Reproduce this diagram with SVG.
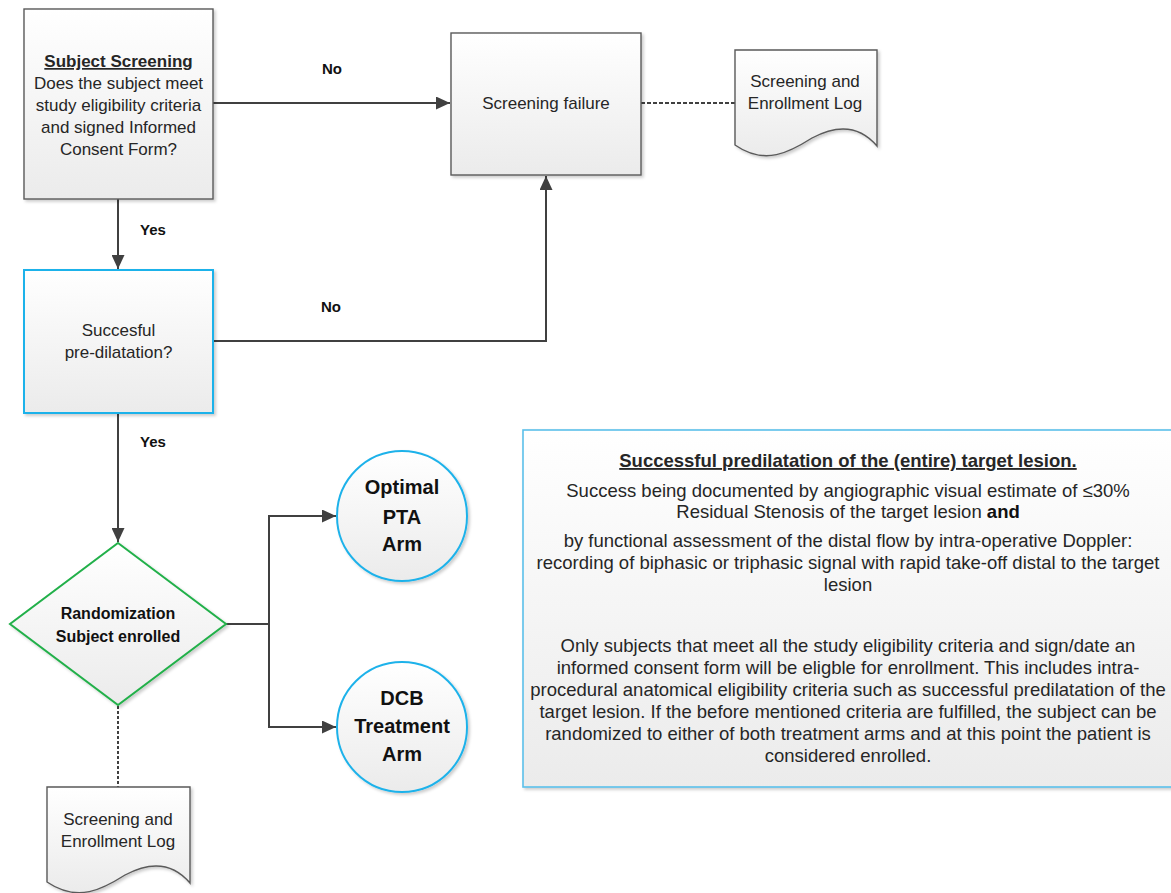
<svg xmlns="http://www.w3.org/2000/svg" width="1171" height="893" viewBox="0 0 1171 893">
<style>
.t{font-family:"Liberation Sans",Arial,sans-serif;font-size:17px;fill:#262626;text-anchor:middle}
.n{font-family:"Liberation Sans",Arial,sans-serif;font-size:18.5px;fill:#262626;text-anchor:middle}
.lbl{font-family:"Liberation Sans",Arial,sans-serif;font-size:15px;font-weight:bold;fill:#111;text-anchor:middle}
.bt{font-family:"Liberation Sans",Arial,sans-serif;font-weight:bold;fill:#111;text-anchor:middle}
.gray{fill:url(#g);stroke:#5a5a5a;stroke-width:1.4}
.blue{fill:url(#g);stroke:#1fb2ea;stroke-width:2}
.green{fill:url(#g);stroke:#22b04a;stroke-width:2}
.con{fill:none;stroke:#404040;stroke-width:2}
</style>
<defs>
<linearGradient id="g" x1="0" y1="0" x2="0" y2="1">
<stop offset="0" stop-color="#ffffff"/>
<stop offset="1" stop-color="#ebebeb"/>
</linearGradient>
<filter id="sh" x="-10%" y="-10%" width="130%" height="130%">
<feDropShadow dx="2" dy="2" stdDeviation="1.5" flood-color="#000" flood-opacity="0.2"/>
</filter>
<marker id="ar" markerUnits="userSpaceOnUse" markerWidth="14" markerHeight="13" refX="14" refY="6.5" orient="auto">
<path d="M0,0 L14,6.5 L0,13 z" fill="#404040"/>
</marker>
</defs>

<g id="connectors">
<path class="con" d="M213,103 H450" marker-end="url(#ar)"/>
<path class="con" d="M118,199 V269" marker-end="url(#ar)"/>
<path class="con" d="M213,341 H546 V176" marker-end="url(#ar)"/>
<path class="con" d="M118,413 V542" marker-end="url(#ar)"/>
<path class="con" d="M226,624 H269 V516 H336" marker-end="url(#ar)"/>
<path class="con" d="M269,624 V727 H336" marker-end="url(#ar)"/>
<path d="M641,103 H735" fill="none" stroke="#404040" stroke-width="2" stroke-dasharray="4,2"/>
<path d="M118,706 V787" fill="none" stroke="#404040" stroke-width="2" stroke-dasharray="3,2"/>
<text class="lbl" x="332" y="74">No</text>
<text class="lbl" x="153" y="235">Yes</text>
<text class="lbl" x="331" y="312">No</text>
<text class="lbl" x="153" y="447">Yes</text>
</g>

<g id="subject-screening">
<rect class="gray" x="24" y="9" width="189" height="190" filter="url(#sh)"/>
<text class="t" x="118.5" y="67" font-weight="bold" text-decoration="underline">Subject Screening</text>
<text class="t" x="118.5" y="89">Does the subject meet</text>
<text class="t" x="118.5" y="111">study eligibility criteria</text>
<text class="t" x="118.5" y="133">and signed Informed</text>
<text class="t" x="118.5" y="155">Consent Form?</text>
</g>

<g id="screening-failure">
<rect class="gray" x="451" y="33" width="190" height="142" filter="url(#sh)"/>
<text class="t" x="546" y="109">Screening failure</text>
</g>

<g id="log-top">
<path class="gray" filter="url(#sh)" d="M735,50 H877 V146 C860,126 838,124 812,138 C790,152 765,166 735,145 Z"/>
<text class="t" x="805" y="87">Screening and</text>
<text class="t" x="805" y="109">Enrollment Log</text>
</g>

<g id="predilatation">
<rect class="blue" x="24" y="270" width="189" height="143" filter="url(#sh)"/>
<text class="t" x="118.5" y="336">Succesful</text>
<text class="t" x="118.5" y="358">pre-dilatation?</text>
</g>

<g id="randomization">
<path class="green" filter="url(#sh)" d="M118,543 L226,624 L118,705 L10,624 Z"/>
<text class="bt" font-size="16" x="118" y="619">Randomization</text>
<text class="bt" font-size="16" x="118" y="642">Subject enrolled</text>
</g>

<g id="optimal-pta">
<circle class="blue" cx="402" cy="516" r="65" filter="url(#sh)"/>
<text class="bt" font-size="20" x="402" y="494">Optimal</text>
<text class="bt" font-size="20" x="402" y="524">PTA</text>
<text class="bt" font-size="20" x="402" y="551">Arm</text>
</g>

<g id="dcb-arm">
<circle class="blue" cx="402" cy="727" r="65" filter="url(#sh)"/>
<text class="bt" font-size="20" x="402" y="705">DCB</text>
<text class="bt" font-size="20" x="402" y="733">Treatment</text>
<text class="bt" font-size="20" x="402" y="761">Arm</text>
</g>

<g id="log-bottom">
<path class="gray" filter="url(#sh)" d="M47,787 H190 V883 C173,863 151,861 125,875 C103,889 78,903 47,882 Z"/>
<text class="t" x="118" y="825">Screening and</text>
<text class="t" x="118" y="847">Enrollment Log</text>
</g>

<g id="note">
<rect x="523" y="430" width="660" height="357" fill="url(#g)" stroke="#5bc0ea" stroke-width="1.6" filter="url(#sh)"/>
<text class="n" x="848" y="467" font-size="19.5" font-weight="bold" fill="#111" text-decoration="underline">Successful predilatation of the (entire) target lesion.</text>
<text class="n" x="848" y="497">Success being documented by angiographic visual estimate of ≤30%</text>
<text class="n" x="848" y="518">Residual Stenosis of the target lesion <tspan font-weight="bold" fill="#111">and</tspan></text>
<text class="n" x="848" y="547">by functional assessment of the distal flow by intra-operative Doppler:</text>
<text class="n" x="848" y="569">recording of biphasic or triphasic signal with rapid take-off distal to the target</text>
<text class="n" x="848" y="591">lesion</text>
<text class="n" x="848" y="652">Only subjects that meet all the study eligibility criteria and sign/date an</text>
<text class="n" x="848" y="674">informed consent form will be eligble for enrollment. This includes intra-</text>
<text class="n" x="848" y="696">procedural anatomical eligibility criteria such as successful predilatation of the</text>
<text class="n" x="848" y="718">target lesion. If the before mentioned criteria are fulfilled, the subject can be</text>
<text class="n" x="848" y="740">randomized to either of both treatment arms and at this point the patient is</text>
<text class="n" x="848" y="762">considered enrolled.</text>
</g>
</svg>
